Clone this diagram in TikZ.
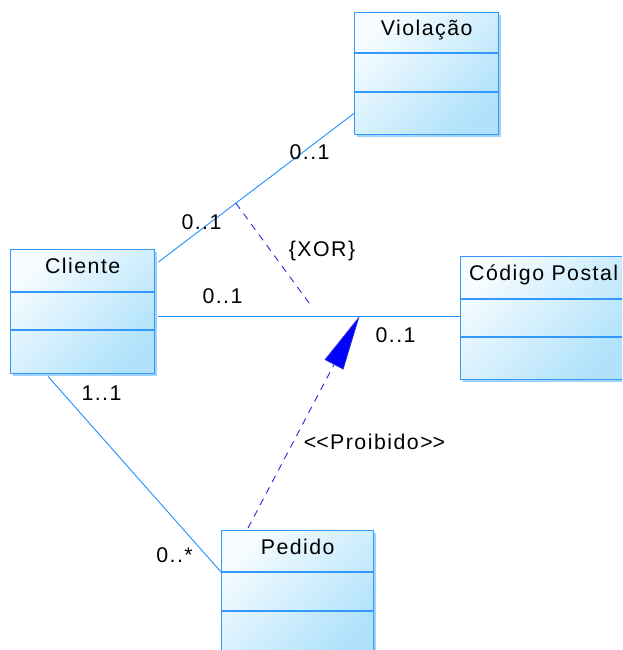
\documentclass[tikz,border=0pt]{standalone}
\usepackage{fontspec}
\setmainfont{Liberation Sans}[LetterSpace=7]
\usetikzlibrary{arrows.meta,calc}

\definecolor{umlborder}{RGB}{51,153,255}
\definecolor{umlshadow}{RGB}{160,210,250}
\definecolor{clslight}{RGB}{246,252,255}
\definecolor{clsdark}{RGB}{176,226,251}
\definecolor{assoccol}{RGB}{30,144,255}
\definecolor{dashcol}{RGB}{40,40,225}

% class box: name, x, y, width, height, first divider, second divider, title
\newcommand\umlclass[8]{%
  \fill[umlshadow] (#2+3,#3+3) rectangle ++(#4,#5);
  \node[classbox, minimum width=#4pt, minimum height=#5pt] (#1) at (#2,#3) {};
  \draw[classline] ([yshift=-#6pt]#1.north west) -- ([yshift=-#6pt]#1.north east);
  \draw[classline] ([yshift=-#7pt]#1.north west) -- ([yshift=-#7pt]#1.north east);
  \node[classtitle] (#1-title) at ([yshift=-24pt]#1.north) {#8};
}

\begin{document}
\begin{tikzpicture}[x=1pt,y=-1pt,
  classbox/.style={draw=umlborder, line width=1.4pt, top color=clslight,
    bottom color=clsdark, shading angle=45, anchor=north west, inner sep=0pt},
  classline/.style={draw=umlborder, line width=1.4pt},
  classtitle/.style={anchor=base, inner sep=0pt, font=\fontsize{21.3}{25}\selectfont},
  mult/.style={anchor=base, inner sep=0pt, font=\fontsize{21.3}{25}\selectfont},
  assoc/.style={draw=assoccol, line width=0.9pt},
  depend/.style={draw=dashcol, line width=0.9pt, dash pattern=on 7pt off 6pt},
]
\useasboundingbox (0,0) rectangle (622,650);
\clip (0,0) rectangle (622,650);
\fill[white] (0,0) rectangle (622,650);

\umlclass{vio}{354}{12}{144}{122}{41}{80}{Violação}
\umlclass{cli}{10}{249}{144}{124}{43}{81}{Cliente}
\umlclass{cep}{460}{256}{166}{123}{43}{81}{Código Postal}
\umlclass{ped}{221}{530}{152}{124}{42}{81}{Pedido}

% associations
\draw[assoc] ([xshift=3pt,yshift=-13pt]cli.north east) -- ([yshift=22pt]vio.south west)
  coordinate[pos=0.396] (xorstart);
\draw[assoc] ([xshift=3pt,yshift=-67pt]cli.north east) -- ([yshift=-60pt]cep.north west)
  coordinate[pos=0.667] (forbidtip);
\draw[assoc] ([xshift=38pt,yshift=-2pt]cli.south west) -- ([yshift=-42pt]ped.north west);

% XOR constraint
\coordinate (xorend) at (312,307);
\draw[depend] (xorstart) -- (xorend);

% forbidden dependency
\draw[depend, -{Triangle[length=55pt,width=21pt,fill=blue]}, color=dashcol]
  ([xshift=27pt,yshift=2pt]ped.north west) -- (forbidtip);

% multiplicities and labels
\node[mult] (m1) at (309.5,159) {0..1};
\node[mult] (m2) at (201.5,229) {0..1};
\node[mult] (xor) at (322,256) {\{XOR\}};
\node[mult] (m3) at (222.5,303) {0..1};
\node[mult] (m4) at (395.5,342) {0..1};
\node[mult] (m5) at (101.5,400) {1..1};
\node[mult] (st) at (374.5,449) {<\kern0pt<Proibido>\kern0pt>};
\node[mult] (m6) at (174.5,562) {0..*};
\end{tikzpicture}
\end{document}
